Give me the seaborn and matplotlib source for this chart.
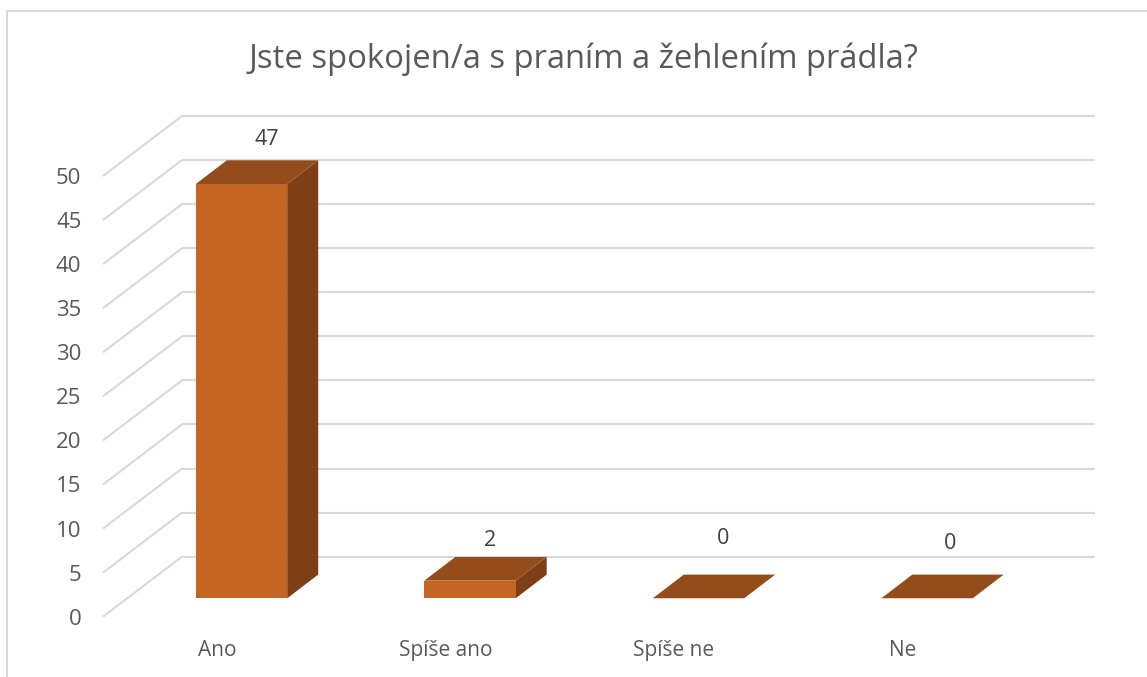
import pandas as pd
import seaborn as sns
from matplotlib import pyplot as plt
from matplotlib.lines import Line2D
from matplotlib.transforms import ScaledTranslation

# chart data
categories = ["Ano", "Spíše ano", "Spíše ne", "Ne"]
answers = [47, 2, 0, 0]
y_ticks = [0, 5, 10, 15, 20, 25, 30, 35, 40, 45, 50]
title = "Jste spokojen/a s praním a žehlením prádla?"

FRONT = "#C46524"
TOP = "#954C1B"
SIDE = "#7E3F17"
GRID = "#D9D9D9"
TEXT = "#595959"
LABEL = "#404040"

W, H = 1147, 677
unit_px = 8.81
step_px = 228.5

sns.set_theme(style="white")
plt.rcParams["font.family"] = ["Open Sans", "DejaVu Sans"]

fig = plt.figure(figsize=(W / 100, H / 100), dpi=100)
left, right, zero_y, top_y = 103, 1095, 616.7, 176
ax = fig.add_axes([left / W, 1 - zero_y / H, (right - left) / W, (zero_y - top_y) / H])

df = pd.DataFrame({"cat": categories, "val": answers})
sns.barplot(data=df, x="cat", y="val", color=FRONT, saturation=1, width=0.4,
            linewidth=0, zorder=4, ax=ax)

x0 = (left - 241.5) / step_px
x1 = (right - 241.5) / step_px
ax.set_xlim(x0, x1)
ax.set_ylim(0, 50)

# depth of the fake 3d box, px converted to data units
base = (zero_y - 598.3) / unit_px
bar_dx, bar_dy = 31 / step_px, 23.7 / unit_px
wall_dx, wall_dy = 79 / step_px, 60 / unit_px

# floor and wall grid
for v in y_ticks:
    ax.plot([x0, x0 + wall_dx], [v, v + wall_dy], color=GRID, lw=1.5, clip_on=False,
            zorder=1, solid_capstyle="butt")
    ax.plot([x0 + wall_dx, x1], [v + wall_dy, v + wall_dy], color=GRID, lw=1.5, clip_on=False,
            zorder=1, solid_capstyle="butt")

# side and top faces come from the bars seaborn drew
for p in ax.patches:
    p.set_y(base)
    xa, xb = p.get_x(), p.get_x() + p.get_width()
    yb, yt = base, base + p.get_height()
    ax.fill([xb, xb + bar_dx, xb + bar_dx, xb], [yb, yb + bar_dy, yt + bar_dy, yt],
            color=SIDE, lw=0, clip_on=False, zorder=3)
    ax.fill([xa, xb, xb + bar_dx, xa + bar_dx], [yt, yt, yt + bar_dy, yt + bar_dy],
            color=TOP, lw=0, clip_on=False, zorder=5)

# value labels sit by hand over each box, like in the original
offsets = [(25.5, 45), (20, 40), (24.7, 59.5), (23, 54.5)]
for p, v, (ox, oy) in zip(ax.patches, answers, offsets):
    ax.annotate(str(v), (p.get_x() + p.get_width() / 2, base + p.get_height()),
                xytext=(ox * 0.72, oy * 0.72), textcoords="offset points",
                ha="center", va="center", fontsize=15.5, color=LABEL, annotation_clip=False)

sns.despine(ax=ax, left=True, bottom=True)
ax.set_xlabel("")
ax.set_ylabel("")
ax.set_yticks(y_ticks)
ax.tick_params(axis="y", length=0, pad=15.5, labelsize=16, labelcolor=TEXT)
ax.tick_params(axis="x", length=0, pad=16.5, labelsize=15, labelcolor=TEXT)
shift = ScaledTranslation(-24.5 / 100, 0, fig.dpi_scale_trans)
for lab in ax.get_xticklabels():
    lab.set_transform(lab.get_transform() + shift)
ax.patch.set_alpha(0)

fig.text(583.5 / W, 1 - 59 / H, title, ha="center", va="center", fontsize=23.6, color=TEXT)

# chart frame, only top and left are visible
fig.add_artist(Line2D([7.5 / W, 7.5 / W], [0, 1 - 10.5 / H], color=GRID, lw=1.4))
fig.add_artist(Line2D([7.5 / W, 1], [1 - 10.5 / H, 1 - 10.5 / H], color=GRID, lw=1.4))

fig.savefig("out.png", dpi=100)
